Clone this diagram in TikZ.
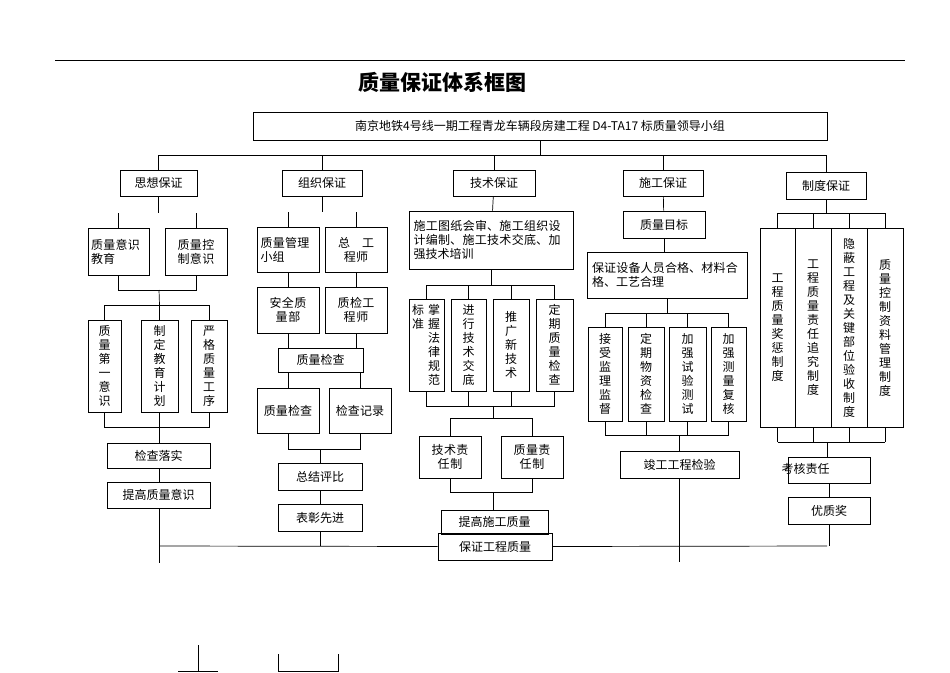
\documentclass[tikz,border=0pt]{standalone}
\usepackage{fontspec}
\setmainfont{Noto Sans CJK SC}
\XeTeXlinebreaklocale "zh"
\XeTeXlinebreakskip=0pt plus 1pt
\tikzset{
 bx/.style={draw,line width=0.8pt,inner sep=1pt,font=\fontsize{12}{14}\selectfont},
 vt/.style={text width=13pt,align=center},
 ln/.style={line width=0.7pt}
}
\newcommand\bx[7][]{\node[bx,minimum width={(#4-#2)*1pt},minimum height={(#5-#3)*1pt},#1] (#7) at ({(#2+#4)/2},{(#3+#5)/2}) {#6};}
\newcommand\brk[3]{% parent, Y, children
 \draw[ln] (#1.south) -- (#1.south|-0,#2);
 \foreach \c in {#3}{\draw[ln] (\c.north) -- (\c.north|-0,#2);}}
\begin{document}
\begin{tikzpicture}[x=1pt,y=-1pt]
\useasboundingbox (0,0) rectangle (950,672);
\draw[ln] (55,60) -- (905,60);
\node[font=\fontsize{21}{24}\selectfont\bfseries] (title) at (442,82) {质量保证体系框图};
\bx{253}{112}{827}{140}{南京地铁4号线一期工程青龙车辆段房建工程 D4-TA17 标质量领导小组}{top}
% level 2
\bx{120}{170}{197}{196}{思想保证}{s1}
\bx{282}{170}{362}{196}{组织保证}{s2}
\bx{453}{170}{535}{196}{技术保证}{s3}
\bx{623}{170}{703}{196}{施工保证}{s4}
\bx{786}{172}{866}{199}{制度保证}{s5}
\draw[ln] (top.south) -- (top.south|-0,155);
\draw[ln] (s1.north|-0,155) -- (s5.north|-0,155);
\foreach \n in {s1,s2,s3,s4,s5}{\draw[ln] (\n.north) -- (\n.north|-0,155);}
% column 1
\bx[text width=55pt,align=left]{88}{228}{149}{275}{质量意识教育}{a1}
\bx[text width=55pt,align=center]{165}{228}{227}{275}{质量控制意识}{a2}
\brk{s1}{213}{a1,a2}
\draw[ln] (a1.south) -- (a1.south|-0,290) -- (a2.south|-0,290) -- (a2.south);
\bx[vt]{88}{320}{121}{412}{质量第一意识}{a3}
\bx[vt]{141}{320}{178}{412}{制定教育计划}{a4}
\bx[vt]{191}{320}{227}{412}{严格质量工序}{a5}
\draw[ln] (159,290) -- (a4.north|-0,305);
\draw[ln] (a3.north) -- (a3.north|-0,305) -- (a5.north|-0,305) -- (a5.north);
\draw[ln] (a4.north) -- (a4.north|-0,305);
\draw[ln] (a3.south) -- (a3.south|-0,427) -- (a5.south|-0,427) -- (a5.south);
\draw[ln] (a4.south) -- (a4.south|-0,427);
\bx{107}{443}{210}{468}{检查落实}{a6}
\bx[align=left]{107}{482}{210}{508}{提高质量意识}{a7}
\draw[ln] (159,427) -- (159,443);
\draw[ln] (159,468) -- (159,482);
\draw[ln] (159,508) -- (159,563);
% column 2
\bx[text width=55pt,align=left]{257}{227}{319}{272}{质量管理小组}{b1}
\bx[text width=45pt,align=center]{325}{227}{387}{272}{总\quad 工 程师}{b2}
\bx[text width=50pt,align=center]{257}{287}{319}{333}{安全质量部}{b3}
\bx[text width=50pt,align=center]{325}{287}{387}{333}{质检工程师}{b4}
\bx[align=left]{278}{348}{363}{372}{质量检查}{b5}
\bx[text width=50pt,align=center]{257}{388}{319}{433}{质量检查}{b6}
\bx[text width=50pt,align=center]{329}{388}{391}{433}{检查记录}{b7}
\brk{s2}{212}{b1,b2}
\draw[ln] (b1) -- (b3); \draw[ln] (b2) -- (b4);
\draw[ln] (b3.south) -- (b3.south|-b5.north); \draw[ln] (b4.south) -- (b4.south|-b5.north);
\draw[ln] (b6.north|-b5.south) -- (b6.north); \draw[ln] (b7.north|-b5.south) -- (b7.north);
\draw[ln] (b6.south) -- (b6.south|-0,449) -- (b7.south|-0,449) -- (b7.south);
\bx{278}{463}{362}{490}{总结评比}{b8}
\bx{278}{504}{362}{531}{表彰先进}{b9}
\draw[ln] (b8.north|-0,449) -- (b8.north);
\draw[ln] (b8) -- (b9);
\draw[ln] (b9.south) -- (b9.south|-0,546);
% column 3
\bx[text width=155pt,align=left]{409}{211}{573}{269}{施工图纸会审、施工组织设计编制、施工技术交底、加强技术培训}{c1}
\draw[ln] (s3) -- (c1);
\bx[vt]{409}{299}{444}{391}{}{c2}
\node[vt,anchor=north,font=\fontsize{12}{14}\selectfont,inner sep=0pt] (c2a) at (418,304) {标准};
\node[vt,anchor=north,font=\fontsize{12}{14}\selectfont,inner sep=0pt] (c2b) at (434,304) {掌握法律规范};
\bx[vt]{451}{299}{486}{391}{进行技术交底}{c3}
\bx[vt]{493}{299}{529}{391}{推广新技术}{c4}
\bx[vt]{536}{299}{573}{391}{定期质量检查}{c5}
\brk{c1}{285}{c2,c3,c4,c5}
\draw[ln] (c2.north|-0,285) -- (c5.north|-0,285);
\draw[ln] (c2.south) -- (c2.south|-0,406) -- (c5.south|-0,406) -- (c5.south);
\draw[ln] (c3.south) -- (c3.south|-0,406); \draw[ln] (c4.south) -- (c4.south|-0,406);
\bx[text width=50pt,align=center]{419}{436}{481}{478}{技术责任制}{c6}
\bx[text width=50pt,align=center]{501}{436}{563}{478}{质量责任制}{c7}
\draw[ln] (493,406) -- (493,418);
\draw[ln] (c6.north) -- (c6.north|-0,418) -- (c7.north|-0,418) -- (c7.north);
\draw[ln] (c6.south) -- (c6.south|-0,492) -- (c7.south|-0,492) -- (c7.south);
\bx[align=left]{441}{510}{548}{534}{提高施工质量}{c8}
\bx[align=left]{438}{533}{552}{560}{保证工程质量}{c9}
\draw[ln] (493,492) -- (493,510);
% column 4
\bx[align=left]{623}{211}{705}{238}{质量目标}{d1}
\bx[text width=150pt,align=left]{587}{252}{747}{298}{保证设备人员合格、材料合格、工艺合理}{d2}
\draw[ln] (s4) -- (d1); \draw[ln] (d1.south) -- (d1.south|-d2.north);
\bx[vt]{588}{327}{622}{421}{接受监理监督}{d3}
\bx[vt]{628}{327}{664}{421}{定期物资检查}{d4}
\bx[vt]{669}{327}{706}{421}{加强试验测试}{d5}
\bx[vt]{711}{327}{746}{421}{加强测量复核}{d6}
\brk{d2}{313}{d3,d4,d5,d6}
\draw[ln] (d3.north|-0,313) -- (d6.north|-0,313);
\draw[ln] (d3.south) -- (d3.south|-0,435) -- (d6.south|-0,435) -- (d6.south);
\draw[ln] (d4.south) -- (d4.south|-0,435); \draw[ln] (d5.south) -- (d5.south|-0,435);
\bx[align=left]{620}{451}{739}{478}{竣工工程检验}{d7}
\draw[ln] (d7.north|-0,435) -- (d7.north);
\draw[ln] (d7.south) -- (d7.south|-0,562);
% column 5
\bx[vt]{760}{228}{795}{427}{工程质量奖惩制度}{e1}
\bx[vt]{795}{228}{831}{427}{工程质量责任追究制度}{e2}
\bx[vt]{831}{228}{867}{427}{隐蔽工程及关键部位验收制度}{e3}
\bx[vt]{867}{228}{903}{427}{质量控制资料管理制度}{e4}
\brk{s5}{213}{}
\draw[ln] (e1.north|-0,213) -- (e4.north|-0,213);
\foreach \n in {e1,e2,e3,e4}{\draw[ln] (\n.north) -- (\n.north|-0,213); \draw[ln] (\n.south) -- (\n.south|-0,442);}
\draw[ln] (e1.south|-0,442) -- (e4.south|-0,442);
\bx{788}{457}{870}{483}{}{e5}
\node[anchor=west,font=\fontsize{12}{14}\selectfont] (e5t) at (778,469) {考核责任};
\bx[align=left]{788}{497}{870}{524}{优质奖}{e6}
\draw[ln] (827,442) -- (827,457);
\draw[ln] (e5) -- (e6);
\draw[ln] (e6.south) -- (e6.south|-0,546);
% bottom bus
\draw[ln] (159,546) -- (c9.west);
\draw[ln] (c9.east) -- (827,546);
% stray marks
\draw[ln] (178,671) -- (218,671); \draw[ln] (198,645) -- (198,671);
\draw[ln] (278,654) -- (278,671) -- (338,671) -- (338,654);
\end{tikzpicture}
\end{document}
